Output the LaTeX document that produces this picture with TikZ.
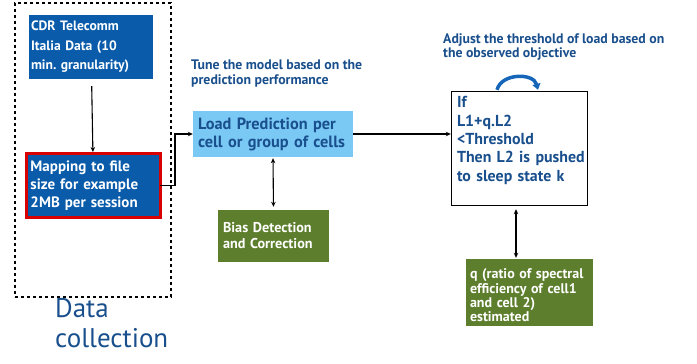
\documentclass[tikz,border=0pt]{standalone}
\usepackage{fontspec}
\setmainfont{PT Sans}
\usepackage{xcolor}
\usetikzlibrary{positioning,arrows.meta,calc}
\frenchspacing
\definecolor{iblue}{HTML}{0A5CAB}
\definecolor{lblue}{HTML}{7AC9F5}
\definecolor{igreen}{HTML}{5D7E2D}
\definecolor{tblue}{HTML}{194F8C}
\definecolor{arcblue}{HTML}{1565B8}
\tikzset{
  dbk/.style={fill=iblue,text=white,align=left,font=\bfseries\fontsize{13.6}{19.5}\selectfont,inner ysep=0pt},
  mbk/.style={dbk,draw=red!85!black,line width=3pt,font=\bfseries\fontsize{15}{18.3}\selectfont},
  pbk/.style={fill=lblue,text=tblue,align=left,font=\bfseries\fontsize{16.3}{18}\selectfont,inner ysep=0pt},
  gbk/.style={fill=igreen,text=white,align=left,font=\bfseries\fontsize{14.2}{16}\selectfont,inner ysep=0pt},
  wbk/.style={draw=black,fill=white,text=tblue,align=left,font=\bfseries\fontsize{15.9}{18.4}\selectfont,inner ysep=0pt},
  note/.style={text=tblue,align=left,font=\bfseries\fontsize{13.8}{14.8}\selectfont,inner sep=0pt},
  arr/.style={-{Stealth[length=5pt,width=4.5pt]},line width=1.1pt},
  dbl/.style={{Stealth[length=5pt,width=4.5pt]}-{Stealth[length=5pt,width=4.5pt]},line width=1.1pt},
}
\begin{document}
\begin{tikzpicture}[x=1pt,y=1pt]
  \useasboundingbox (0,0) rectangle (697,-364);
  % data collection part
  \node[draw,dashed,line width=1.2pt,minimum width=156pt,minimum height=294pt] (dcol) at (93,-150) {};
  \node[dbk,text width=120pt,inner xsep=2pt,minimum height=64pt] (cdr) at (91,-47) {CDR Telecomm\\Italia Data (10\\\mbox{min. granularity)}};
  \node[mbk,text width=126pt,inner xsep=4pt,minimum height=64pt] (map) at (93.5,-185.5) {Mapping to file\\size for example\\2MB per session};
  \node[anchor=north west,text=tblue,align=left,inner sep=0pt,font=\fontsize{27}{30}\selectfont] (dclab) at (55,-298) {Data\\collection};
  % prediction
  \node[pbk,text width=150pt,inner xsep=5pt,minimum height=46pt] (load) at (273,-134) {Load Prediction per\\cell or group of cells};
  \node[gbk,text width=101pt,inner xsep=5pt,minimum height=52pt] (bias) at (273.5,-236) {Bias Detection\\and Correction};
  \node[note,anchor=north west] (tune) at (191,-60) {Tune the model based on the\\prediction performance};
  % decision
  \node[wbk,text width=124pt,inner xsep=6pt,minimum height=114pt] (if) at (519,-148) {If\\L1+q.L2\\<Threshold\\\mbox{Then L2 is pushed}\\\mbox{to sleep state k}\\\mbox{}};
  \node[gbk,font=\bfseries\fontsize{14}{14.3}\selectfont,text width=119pt,inner xsep=4pt,minimum height=67pt] (q) at (529.5,-292.5) {\rule{0pt}{16pt}\mbox{q (ratio of spectral}\\efficiency of cell1\\and cell 2)\\estimated};
  \node[note,anchor=north west] (adj) at (443,-33) {Adjust the threshold of load based on\\the observed objective};
  % connectors
  \draw[arr,shorten <=7pt] (cdr) -- (map);
  \draw[arr] ([xshift=-2pt]map.east) -- ++(15,0) |- (load.west);
  \draw[arr] (load.east) -- (load.east -| if.west);
  \draw[dbl,shorten <=1pt,shorten >=3pt] (load.south) -- (bias.north);
  \draw[dbl,shorten <=4pt,shorten >=1pt] ([xshift=-3pt]if.south) -- ([xshift=-3pt]if.south |- q.north);
  \draw[arcblue,line width=3.5pt,-{Triangle[length=6pt,width=8pt]}] ([xshift=-22pt,yshift=1pt]if.north) to[out=75,in=105,looseness=1.1] ([xshift=19pt,yshift=1pt]if.north);
\end{tikzpicture}
\end{document}
